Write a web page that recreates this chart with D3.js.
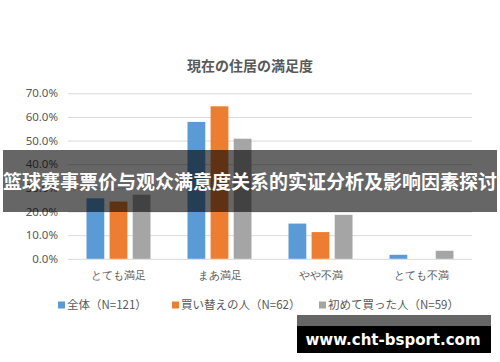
<!DOCTYPE html>
<html>
<head>
<meta charset="utf-8">
<script src="https://cdn.jsdelivr.net/npm/d3@7"></script>
<style>
  body { margin: 0; background: #fff; }
  svg { display: block; font-family: "Noto Sans CJK JP", "Noto Sans", sans-serif; }
</style>
</head>
<body>
<svg id="chart" width="500" height="362"></svg>
<script>
// chart data
let categories = ["とても満足", "まあ満足", "やや不満", "とても不満"];
let seriesNames = ["全体（N=121）", "買い替えの人（N=62）", "初めて買った人（N=59）"];
let allValues = [25.6, 57.9, 14.9, 1.7];
let repeatValues = [24.2, 64.5, 11.3, 0];
let firstValues = [27.1, 50.8, 18.6, 3.4];
let yTicks = [0, 10, 20, 30, 40, 50, 60, 70];
let colors = ["#5b9bd5", "#ed7d31", "#a5a5a5"];

let series = [allValues, repeatValues, firstValues];

function draw() {
    let svg = d3.select("#chart");

    let x = d3.scaleBand()
        .domain(categories)
        .range([68, 472]);

    let inner = d3.scaleBand()
        .domain([0, 1, 2])
        .range([x.bandwidth() / 2 - 32, x.bandwidth() / 2 + 32])
        .paddingInner(0.23);

    let y = d3.scaleLinear()
        .domain([0, 70])
        .range([258.8, 93.3]);

    // title
    svg.append("text")
        .attr("x", 250).attr("y", 71)
        .attr("text-anchor", "middle")
        .attr("font-size", 14)
        .attr("font-weight", "bold")
        .attr("fill", "#595959")
        .text("現在の住居の満足度");

    // grid + y labels
    let yAxis = svg.append("g")
        .attr("transform", "translate(68,0)")
        .call(d3.axisLeft(y).tickValues(yTicks)
            .tickSize(-404).tickPadding(10)
            .tickFormat(d => d.toFixed(1) + "%"));
    yAxis.select(".domain").remove();
    yAxis.selectAll("line").attr("stroke", "#d9d9d9");
    yAxis.selectAll("text")
        .attr("fill", "#595959")
        .attr("font-size", 11.5)
        .attr("font-family", "'Noto Sans', sans-serif");

    // bars
    series.forEach(function (vals, s) {
        svg.append("g").selectAll("rect")
            .data(vals)
            .join("rect")
            .attr("x", (d, i) => x(categories[i]) + inner(s))
            .attr("width", inner.bandwidth())
            .attr("y", d => y(d))
            .attr("height", d => y(0) - y(d))
            .attr("fill", colors[s]);
    });

    // x labels
    let xAxis = svg.append("g")
        .attr("transform", "translate(0,259)")
        .call(d3.axisBottom(x).tickSize(0).tickPadding(12));
    xAxis.select(".domain").remove();
    xAxis.selectAll("text")
        .attr("fill", "#595959")
        .attr("font-size", 11);

    // legend
    let legendX = [58, 172, 319];
    let legend = svg.append("g").selectAll("g")
        .data(seriesNames)
        .join("g")
        .attr("transform", (d, i) => "translate(" + legendX[i] + ",305)");
    legend.append("rect")
        .attr("x", 0).attr("y", -3.5)
        .attr("width", 7).attr("height", 7)
        .attr("fill", (d, i) => colors[i]);
    legend.append("text")
        .attr("x", 9).attr("y", 4)
        .attr("font-size", 11.5)
        .attr("fill", "#595959")
        .text(d => d);

    // overlay banner
    svg.append("rect")
        .attr("x", 3).attr("y", 150)
        .attr("width", 494).attr("height", 62)
        .attr("fill", "rgba(0,0,0,0.6)");
    svg.append("text")
        .attr("x", 250).attr("y", 189)
        .attr("text-anchor", "middle")
        .attr("font-size", 19)
        .attr("font-weight", "bold")
        .attr("fill", "#fff")
        .attr("font-family", "'Noto Sans CJK SC', sans-serif")
        .text("篮球赛事票价与观众满意度关系的实证分析及影响因素探讨");

    // watermark
    svg.append("rect")
        .attr("x", 297).attr("y", 315)
        .attr("width", 194).attr("height", 11)
        .attr("fill", "#666");
    svg.append("rect")
        .attr("x", 297).attr("y", 326)
        .attr("width", 194).attr("height", 27)
        .attr("fill", "#000");
    svg.append("text")
        .attr("x", 393).attr("y", 345)
        .attr("text-anchor", "middle")
        .attr("font-size", 15)
        .attr("font-weight", "bold")
        .attr("fill", "#fff")
        .attr("font-family", "'DejaVu Sans', sans-serif")
        .text("www.cht-bsport.com");
}

draw();
</script>
</body>
</html>
